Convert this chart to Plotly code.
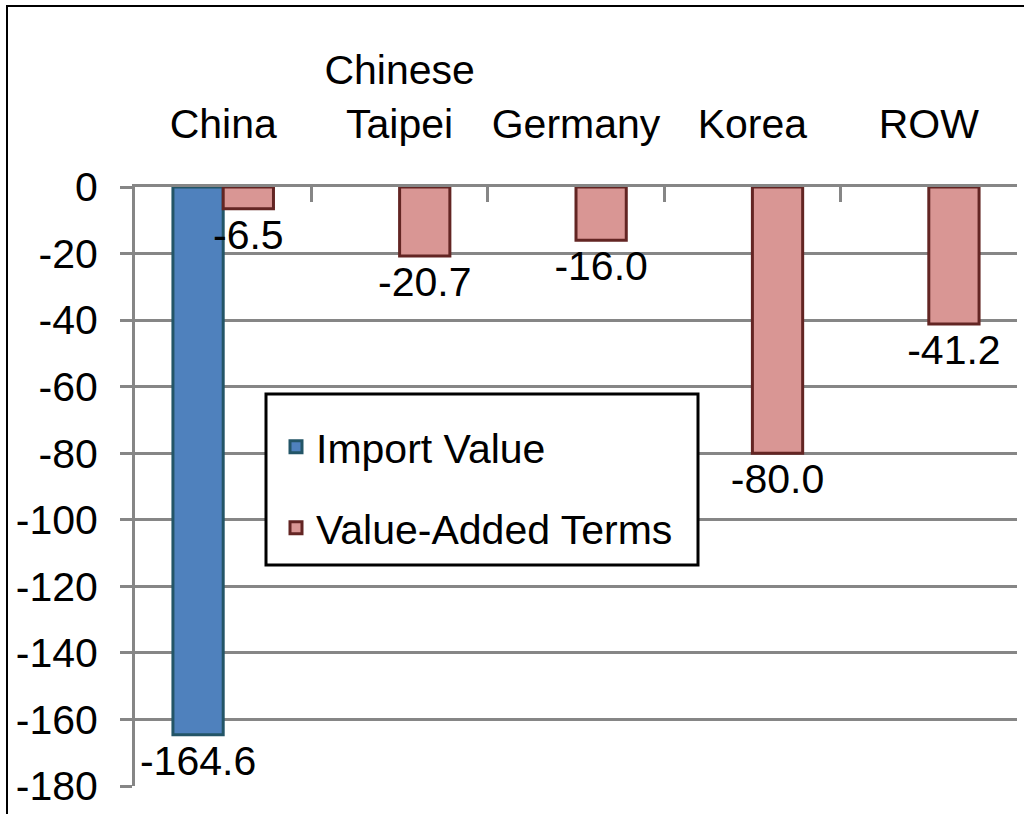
import plotly.graph_objects as go

categories = ["China", "Chinese<br>Taipei", "Germany", "Korea", "ROW"]
import_value = [-164.6, None, None, None, None]
value_added = [-6.5, -20.7, -16.0, -80.0, -41.2]
y_ticks = [0, -20, -40, -60, -80, -100, -120, -140, -160, -180]
y_tick_labels = ["0", "-20", "-40", "-60", "-80", "-100", "-120", "-140", "-160", "-180"]

FONT = "Liberation Sans Narrow, Arial Narrow, Liberation Sans, Arial, sans-serif"
GRID = "#868686"
FS = 41

# plot area in page pixels
L, R, T, B = 135, 1017, 187, 786
W, H = R - L, B - T


def px(x):
    return (x - L) / W


def py(y):
    return (B - y) / H


fig = go.Figure()
fig.add_trace(go.Bar(
    name="Import Value", x=categories, y=import_value,
    marker=dict(color="#4F81BD", line=dict(color="#235567", width=3)),
    text=[f"{v:.1f}" if v is not None else "" for v in import_value],
    textposition="outside", constraintext="none", cliponaxis=False,
    textfont=dict(size=FS, color="black", family=FONT),
    legend="legend",
))
fig.add_trace(go.Bar(
    name="Value-Added Terms", x=categories, y=value_added,
    marker=dict(color="#D99694", line=dict(color="#632523", width=3)),
    text=[f"{v:.1f}" for v in value_added],
    textposition="outside", constraintext="none", cliponaxis=False,
    textfont=dict(size=FS, color="black", family=FONT),
    legend="legend2",
))

legend_common = dict(
    xanchor="left", yanchor="middle",
    borderwidth=0, bgcolor="rgba(0,0,0,0)",
    font=dict(size=FS, family=FONT, color="black"),
    itemwidth=30,
)

fig.update_layout(
    width=1024, height=814,
    margin=dict(l=L, r=1024 - R, t=T, b=814 - B, autoexpand=False),
    paper_bgcolor="white", plot_bgcolor="white",
    font=dict(family=FONT, size=FS, color="black"),
    barmode="group", bargap=0.43, bargroupgap=0,
    showlegend=True,
    legend=dict(x=px(276), y=py(447), **legend_common),
    legend2=dict(x=px(276), y=py(528), **legend_common),
    xaxis=dict(
        type="category", side="top", showline=True, linecolor=GRID, linewidth=3,
        ticks="inside", ticklen=15, tickwidth=3, tickcolor=GRID,
        tickson="boundaries", showgrid=False, ticklabelstandoff=30,
        tickangle=0, automargin=False,
        tickfont=dict(size=FS, family=FONT, color="black"),
    ),
    yaxis=dict(
        range=[-180, 0], tickvals=y_ticks, ticktext=y_tick_labels,
        showgrid=True, gridcolor=GRID, gridwidth=3,
        showline=True, linecolor=GRID, linewidth=3,
        ticks="outside", ticklen=12, tickwidth=3, tickcolor=GRID,
        zeroline=False, ticklabelstandoff=14, automargin=False,
        tickfont=dict(size=FS, family=FONT, color="black"),
    ),
    shapes=[
        dict(
            type="rect", xref="paper", yref="paper",
            x0=px(7), x1=px(1040), y0=py(830), y1=py(6),
            line=dict(color="black", width=2), fillcolor="rgba(0,0,0,0)",
            layer="above",
        ),
        dict(
            type="rect", xref="paper", yref="paper",
            x0=px(266), x1=px(698), y0=py(565), y1=py(394),
            line=dict(color="black", width=3), fillcolor="white",
            layer="above",
        ),
    ],
)

fig.write_html(
    "out.html",
    config={"displayModeBar": False},
    post_script="document.body.style.margin='0px';",
)
